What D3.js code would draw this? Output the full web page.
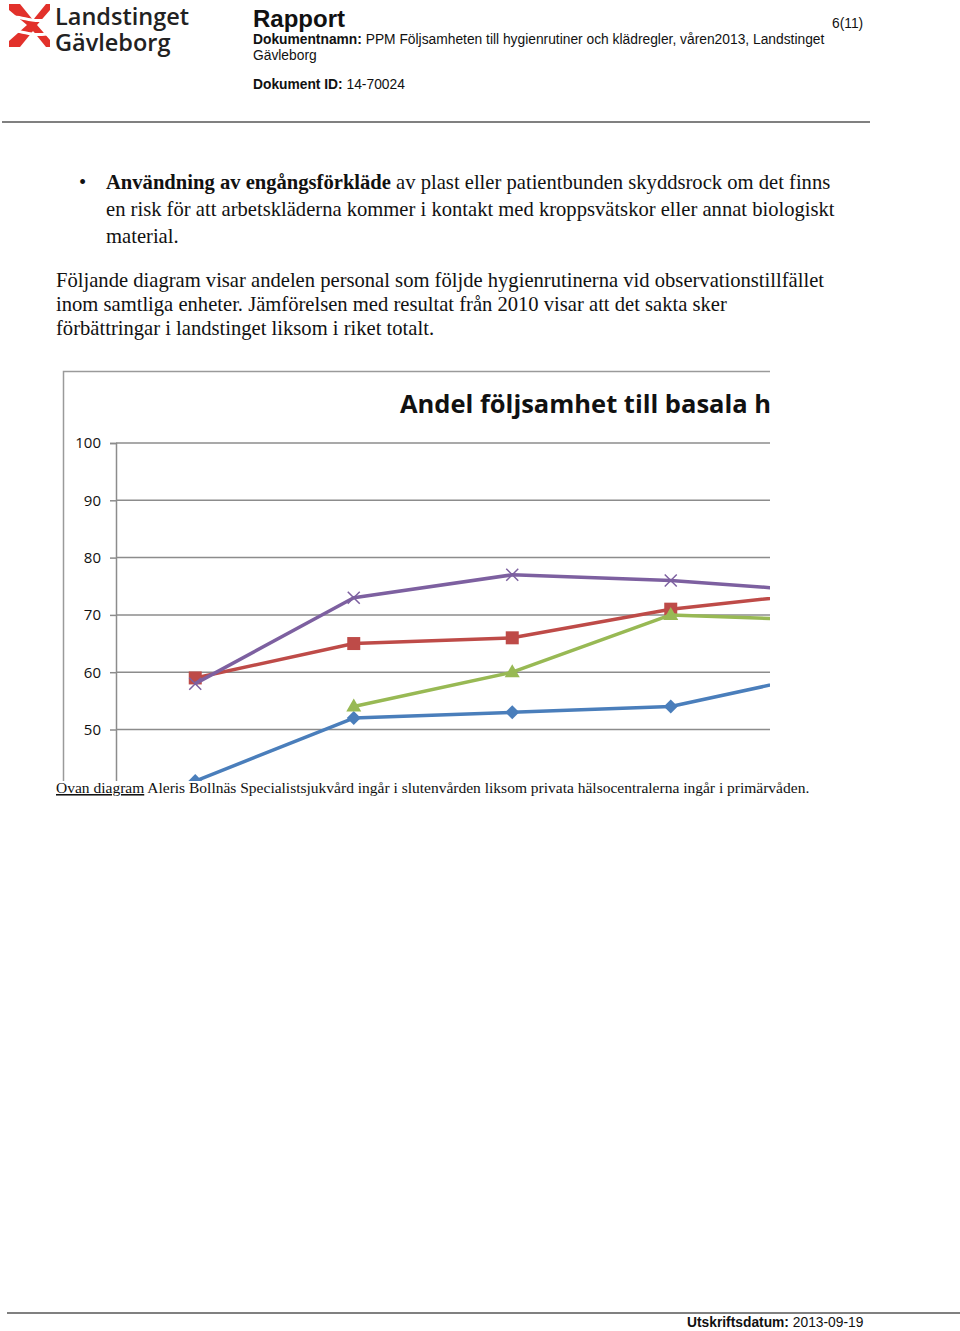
<!DOCTYPE html>
<html><head><meta charset="utf-8">
<script src="https://cdn.jsdelivr.net/npm/d3@7"></script>
<style>
html,body{margin:0;padding:0;background:#fff;}
svg{display:block;}
</style></head>
<body>
<svg id="page" width="960" height="1331"></svg>
<script>
// ---- data ----
const categories = ["Ht 2010", "Vt 2011", "Ht 2011", "Vt 2012", "Ht 2012", "Vt 2013"];
const seriesNames = ["Serie 1", "Serie 2", "Serie 3", "Serie 4"];
const blueValues   = [41, 52, 53, 54, 60, null];
const redValues    = [59, 65, 66, 71, 74, null];
const greenValues  = [null, 54, 60, 70, 69, null];
const purpleValues = [58, 73, 77, 76, 74, null];
const yTicks = [0, 10, 20, 30, 40, 50, 60, 70, 80, 90, 100];
const chartTitle = "Andel följsamhet till basala hygienrutiner";

const svg = d3.select("#page");

// ---- document header ----
const logo = svg.append("g").attr("fill", "#e2312b");
logo.append("path").attr("d", "M9,4 L20,4 L33,20 L46,4 L50,4 L50,10 L37,25 L50,40 L50,47 L46,47 L33,31 L20,47 L9,47 L9,41 L27,25 L9,10 Z");
logo.append("path").attr("fill","#fff").attr("d","M9,16 C20,13 30,22 50,18 L50,21 C30,25 20,16 9,19 Z M9,30 C20,27 30,36 50,32 L50,35 C30,39 20,30 9,33 Z");
const logoText = svg.append("text").attr("font-family", "Open Sans").attr("font-weight", 600)
  .attr("font-size", 23.5).attr("fill", "#222");
logoText.append("tspan").attr("x", 55).attr("y", 25).text("Landstinget");
logoText.append("tspan").attr("x", 55).attr("y", 51).text("Gävleborg");

const hf = "Liberation Sans";
svg.append("text").attr("x", 253).attr("y", 27).attr("font-family", hf).attr("font-weight", "bold")
  .attr("font-size", 24).attr("fill", "#111").text("Rapport");
const dn = svg.append("text").attr("x", 253).attr("y", 44).attr("font-family", hf).attr("font-size", 13.8).attr("fill", "#111");
dn.append("tspan").attr("font-weight", "bold").text("Dokumentnamn:");
dn.append("tspan").text(" PPM Följsamheten till hygienrutiner och klädregler, våren2013, Landstinget");
svg.append("text").attr("x", 253).attr("y", 60).attr("font-family", hf).attr("font-size", 13.8).attr("fill", "#111").text("Gävleborg");
const di = svg.append("text").attr("x", 253).attr("y", 89).attr("font-family", hf).attr("font-size", 13.8).attr("fill", "#111");
di.append("tspan").attr("font-weight", "bold").text("Dokument ID:");
di.append("tspan").text(" 14-70024");
svg.append("text").attr("x", 832).attr("y", 28).attr("font-family", hf).attr("font-size", 13.8).attr("fill", "#111").text("6(11)");
svg.append("line").attr("x1", 2).attr("x2", 870).attr("y1", 122).attr("y2", 122).attr("stroke", "#808080").attr("stroke-width", 2);

// ---- body text ----
const tf = "Liberation Serif";
const body = svg.append("g").attr("font-family", tf).attr("font-size", 20.6).attr("fill", "#111");
body.append("text").attr("x", 79).attr("y", 189).text("•");
const b1 = body.append("text").attr("x", 106).attr("y", 189);
b1.append("tspan").attr("font-weight", "bold").text("Användning av engångsförkläde");
b1.append("tspan").text(" av plast eller patientbunden skyddsrock om det finns");
body.append("text").attr("x", 106).attr("y", 216).text("en risk för att arbetskläderna kommer i kontakt med kroppsvätskor eller annat biologiskt");
body.append("text").attr("x", 106).attr("y", 243).text("material.");
body.append("text").attr("x", 56).attr("y", 287).text("Följande diagram visar andelen personal som följde hygienrutinerna vid observationstillfället");
body.append("text").attr("x", 56).attr("y", 311).text("inom samtliga enheter. Jämförelsen med resultat från 2010 visar att det sakta sker");
body.append("text").attr("x", 56).attr("y", 335).text("förbättringar i landstinget liksom i riket totalt.");

// ---- chart ----
const clipTop = 370, clipBottom = 781, clipLeft = 62, clipRight = 770;
svg.append("defs").append("clipPath").attr("id", "chartClip")
  .append("rect").attr("x", clipLeft).attr("y", clipTop).attr("width", clipRight - clipLeft).attr("height", clipBottom - clipTop);
const chart = svg.append("g").attr("clip-path", "url(#chartClip)");

chart.append("rect").attr("x", 63.5).attr("y", 371.5).attr("width", 900).attr("height", 700)
  .attr("fill", "#fff").attr("stroke", "#9a9a9a").attr("stroke-width", 1.5);

const plotLeft = 116, band = 158.5;
const x = d3.scalePoint().domain(categories).range([plotLeft + band / 2, plotLeft + band / 2 + band * (categories.length - 1)]);
const y = d3.scaleLinear().domain([0, 100]).range([1016, 443]);
// only ticks that fall inside the visible (cropped) part of the chart
const visibleTicks = yTicks.filter(t => y(t) <= clipBottom);

chart.append("text").attr("x", 400).attr("y", 413).attr("font-family", "Open Sans").attr("font-weight", "bold")
  .attr("font-size", 25.5).attr("fill", "#111").text(chartTitle);

chart.append("g").selectAll("line").data(visibleTicks).join("line")
  .attr("x1", plotLeft).attr("x2", plotLeft + band * categories.length)
  .attr("y1", d => y(d)).attr("y2", d => y(d)).attr("stroke", "#8c8c8c").attr("stroke-width", 1.5);

const yAxis = chart.append("g").attr("transform", `translate(${plotLeft},0)`)
  .call(d3.axisLeft(y).tickValues(visibleTicks).tickSize(6).tickPadding(9));
yAxis.select(".domain").attr("stroke", "#8c8c8c").attr("stroke-width", 1.5);
yAxis.selectAll(".tick line").attr("stroke", "#8c8c8c").attr("stroke-width", 1.5);
yAxis.selectAll(".tick text").attr("font-family", "Open Sans").attr("font-size", 15).attr("fill", "#111");

const series = [
  {name: seriesNames[0], values: blueValues, color: "#4a7ebb", marker: "diamond"},
  {name: seriesNames[1], values: redValues, color: "#be4b48", marker: "square"},
  {name: seriesNames[2], values: greenValues, color: "#98b954", marker: "triangle"},
  {name: seriesNames[3], values: purpleValues, color: "#7d60a0", marker: "x"}
];
const line = d3.line().defined(d => d.v != null).x(d => x(d.c)).y(d => y(d.v));
series.forEach(s => {
  const pts = categories.map((c, i) => ({c, v: s.values[i]}));
  chart.append("path").datum(pts).attr("d", line).attr("fill", "none")
    .attr("stroke", s.color).attr("stroke-width", 3.5).attr("stroke-linejoin", "round");
  const g = chart.append("g");
  pts.filter(p => p.v != null).forEach(p => {
    const cx = x(p.c), cy = y(p.v);
    if (s.marker === "diamond") {
      g.append("path").attr("d", `M${cx},${cy-7}L${cx+7},${cy}L${cx},${cy+7}L${cx-7},${cy}Z`).attr("fill", s.color);
    } else if (s.marker === "square") {
      g.append("rect").attr("x", cx-6.5).attr("y", cy-6.5).attr("width", 13).attr("height", 13).attr("fill", s.color);
    } else if (s.marker === "triangle") {
      g.append("path").attr("d", `M${cx},${cy-8}L${cx+7.5},${cy+5}L${cx-7.5},${cy+5}Z`).attr("fill", s.color);
    } else {
      g.append("path").attr("d", `M${cx-6},${cy-6}L${cx+6},${cy+6}M${cx-6},${cy+6}L${cx+6},${cy-6}`)
        .attr("stroke", s.color).attr("stroke-width", 1.5);
    }
  });
});

// ---- caption ----
const cap = svg.append("text").attr("x", 56).attr("y", 793).attr("font-family", tf).attr("font-size", 15.5).attr("fill", "#111");
cap.append("tspan").attr("text-decoration", "underline").text("Ovan diagram");
cap.append("tspan").text(" Aleris Bollnäs Specialistsjukvård ingår i slutenvården liksom privata hälsocentralerna ingår i primärvåden.");

// ---- footer ----
svg.append("line").attr("x1", 7).attr("x2", 960).attr("y1", 1313).attr("y2", 1313).attr("stroke", "#808080").attr("stroke-width", 2);
const ft = svg.append("text").attr("x", 687).attr("y", 1327).attr("font-family", hf).attr("font-size", 13.8).attr("fill", "#111");
ft.append("tspan").attr("font-weight", "bold").text("Utskriftsdatum:");
ft.append("tspan").text(" 2013-09-19");
</script>
</body></html>
